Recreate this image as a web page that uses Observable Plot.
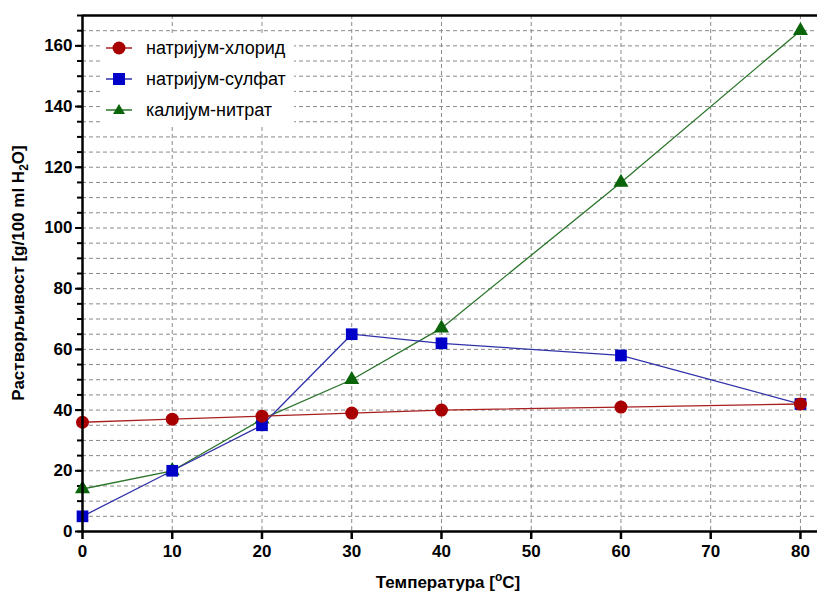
<!DOCTYPE html>
<html>
<head>
<meta charset="utf-8">
<script src="https://cdn.jsdelivr.net/npm/d3@7"></script>
<script src="https://cdn.jsdelivr.net/npm/@observablehq/plot@0.6"></script>
<style>
  body { margin: 0; background: #fff; }
  #wrap { position: relative; width: 817px; height: 597px; font-family: "Liberation Sans", Arial, sans-serif; }
  #legend { position: absolute; left: 102px; top: 34px; width: 192px; height: 90px; background: #fff; }
  .row { position: absolute; left: 0; height: 20px; display: flex; align-items: center; font-size: 18px; color: #000; }
  .row svg { margin-right: 10px; }
</style>
</head>
<body>
<div id="wrap"><div id="legend"></div></div>
<script>
const temperatures = [0, 10, 20, 30, 40, 60, 80];
const natriumHlorid = [36, 37, 38, 39, 40, 41, 42];
const natriumSulfat = [5, 20, 35, 65, 62, 58, 42];
const kalijumNitrat = [14, 20, 37, 50, 67, 115, 165];
const seriesNames = ["натријум-хлорид", "натријум-сулфат", "калијум-нитрат"];
const seriesColors = ["#a80000", "#0000c8", "#0a640a"];
const lineColors = ["#a82020", "#3030a8", "#2a742a"];
const seriesSymbols = ["circle", "square", "triangle"];
const xTicks = [0, 10, 20, 30, 40, 50, 60, 70, 80];
const yTicks = [0, 20, 40, 60, 80, 100, 120, 140, 160];
const yMinorTicks = d3.range(0, 171, 5);

const values = [natriumHlorid, natriumSulfat, kalijumNitrat];
const data = values.flatMap((vals, i) => temperatures.map((t, j) => ({t, v: vals[j], s: seriesNames[i]})));

const markerR = [6.5, 6.6, 5.6];
const drawOrder = [2, 1, 0];
const seriesMarks = drawOrder.flatMap(i => {
  const d = data.filter(r => r.s === seriesNames[i]);
  return [
    Plot.line(d, {x: "t", y: "v", stroke: lineColors[i], strokeWidth: 1.3}),
    Plot.dot(d, {x: "t", y: "v", fill: seriesColors[i], stroke: "none", symbol: seriesSymbols[i], r: markerR[i]})
  ];
});

const gridStyle = {stroke: "#8a8a8a", strokeOpacity: 1, strokeWidth: 1, strokeDasharray: "4,3"};

const chart = Plot.plot({
  width: 817, height: 597,
  marginLeft: 82, marginTop: 15, marginBottom: 66, marginRight: 0,
  x: {domain: [0, 81.9]},
  y: {domain: [0, 170]},
  style: {fontFamily: "Liberation Sans, Arial, sans-serif", fontSize: "17px", fontWeight: "bold", color: "#000", background: "#fff"},
  marks: [
    Plot.gridY(yMinorTicks.filter(d => d > 0 && d < 170), gridStyle),
    Plot.gridX(xTicks.filter(d => d > 0), gridStyle),
    Plot.axisY(yMinorTicks, {tickSize: 5, text: null, label: null, strokeWidth: 2}),
    Plot.axisY(yTicks, {tickSize: 7, tickPadding: 3, label: null, strokeWidth: 2, fontSize: 17, fontWeight: "bold"}),
    Plot.axisX(xTicks, {tickSize: 8, tickPadding: 5, label: null, strokeWidth: 2.5, fontSize: 17, fontWeight: "bold"}),
    Plot.ruleY([170], {stroke: "#000", strokeWidth: 2.5}),
    ...seriesMarks,
    Plot.ruleX([0], {stroke: "#000", strokeWidth: 2.5}),
    Plot.ruleY([0], {stroke: "#000", strokeWidth: 2.5})
  ]
});

document.getElementById("wrap").prepend(chart);

const svg = d3.select(chart);
const xt = svg.append("text")
  .attr("x", 448).attr("y", 588)
  .attr("text-anchor", "middle")
  .attr("font-size", 17).attr("font-weight", "bold").attr("fill", "#000");
xt.append("tspan").text("Температура [");
xt.append("tspan").attr("dy", -7).attr("font-size", 12).text("o");
xt.append("tspan").attr("dy", 7).text("C]");

const yt = svg.append("text")
  .attr("transform", "translate(24,273) rotate(-90)")
  .attr("text-anchor", "middle")
  .attr("font-size", 17).attr("font-weight", "bold").attr("fill", "#000");
yt.append("tspan").text("Растворљивост [g/100 ml H");
yt.append("tspan").attr("dy", 4).attr("font-size", 12).text("2");
yt.append("tspan").attr("dy", -4).text("O]");

const legend = document.getElementById("legend");
const rowTops = [4, 35, 66];
seriesNames.forEach((name, i) => {
  const row = document.createElement("div");
  row.className = "row";
  row.style.top = rowTops[i] + "px";
  const sym = seriesSymbols[i];
  let shape;
  if (sym === "circle") shape = `<circle cx="17" cy="10" r="6.5" fill="${seriesColors[i]}"/>`;
  else if (sym === "square") shape = `<rect x="11" y="4" width="12" height="12" fill="${seriesColors[i]}"/>`;
  else shape = `<path d="M17,4 L23,14 L11,14 Z" fill="${seriesColors[i]}"/>`;
  row.innerHTML = `<svg width="34" height="20"><line x1="4" x2="30" y1="10" y2="10" stroke="${lineColors[i]}" stroke-width="1.5"/>${shape}</svg><span>${name}</span>`;
  legend.appendChild(row);
});
</script>
</body>
</html>
